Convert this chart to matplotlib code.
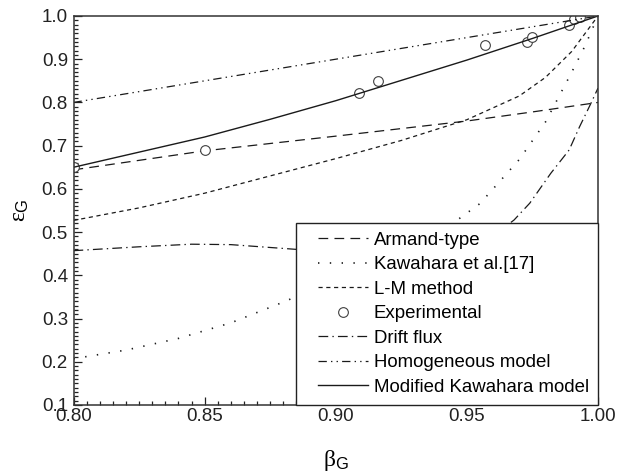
import matplotlib
matplotlib.use("Agg")
import matplotlib.pyplot as plt
from matplotlib.lines import Line2D
from matplotlib.legend_handler import HandlerLine2D
from matplotlib.ticker import MultipleLocator, FormatStrFormatter

plt.rcParams["font.family"] = ["Liberation Sans", "DejaVu Sans"]
plt.rcParams["mathtext.fontset"] = "custom"
plt.rcParams["mathtext.rm"] = "Liberation Serif"
plt.rcParams["mathtext.it"] = "Liberation Serif"
plt.rcParams["mathtext.sf"] = "Liberation Sans"
plt.rcParams["lines.scale_dashes"] = False

# Armand-type correlation
armand_beta = [0.80, 0.85, 0.90, 0.95, 0.975, 1.00]
armand_eps = [0.644, 0.688, 0.722, 0.757, 0.778, 0.800]

# Kawahara et al. [17]
kaw_beta = [0.80, 0.82, 0.84, 0.86, 0.88, 0.90, 0.92, 0.94, 0.955, 0.97, 0.98, 0.99, 0.995, 1.00]
kaw_eps = [0.207, 0.227, 0.254, 0.290, 0.338, 0.390, 0.443, 0.500, 0.566, 0.668, 0.755, 0.870, 0.930, 1.000]

# Lockhart-Martinelli method
lm_beta = [0.80, 0.825, 0.85, 0.875, 0.90, 0.925, 0.95, 0.97, 0.98, 0.99, 1.00]
lm_eps = [0.527, 0.556, 0.590, 0.630, 0.670, 0.712, 0.760, 0.815, 0.858, 0.918, 1.000]

# Experimental data
exp_beta = [0.800, 0.850, 0.909, 0.916, 0.957, 0.973, 0.975, 0.989, 0.991, 0.993]
exp_eps = [0.651, 0.691, 0.821, 0.850, 0.933, 0.939, 0.951, 0.979, 0.992, 0.998]

# Drift flux model
drift_beta = [0.80, 0.825, 0.845, 0.86, 0.885, 0.90, 0.92, 0.94, 0.955, 0.968, 0.974, 0.982, 0.989, 0.993, 0.997, 1.00]
drift_eps = [0.457, 0.466, 0.472, 0.471, 0.460, 0.452, 0.443, 0.445, 0.468, 0.528, 0.567, 0.636, 0.690, 0.744, 0.794, 0.833]

# Homogeneous model
homo_beta = [0.80, 1.00]
homo_eps = [0.80, 1.00]

# Modified Kawahara model
mod_beta = [0.80, 0.825, 0.85, 0.875, 0.90, 0.925, 0.95, 0.975, 1.00]
mod_eps = [0.650, 0.685, 0.720, 0.761, 0.804, 0.851, 0.898, 0.948, 1.000]


class InsetLineHandler(HandlerLine2D):
    """Legend line handler that leaves a gap before the sample line."""

    def __init__(self, inset=0.2, **kw):
        super().__init__(**kw)
        self.inset = inset

    def get_xdata(self, legend, xdescent, ydescent, width, height, fontsize):
        x0 = -xdescent + self.inset * width
        x1 = -xdescent + width
        return [x0, x1], [0.5 * (x0 + x1)]


fig = plt.figure(figsize=(6.24, 4.73), dpi=100)
ax = fig.add_axes([0.1178, 0.1438, 0.8405, 0.8224])

c = "#1a1a1a"
lw = 0.9
ax.plot(armand_beta, armand_eps, color=c, lw=lw, dashes=(7, 4.5), label="Armand-type")
ax.plot(kaw_beta, kaw_eps, color=c, lw=1.2, dashes=(1.0, 7.5), label="Kawahara et al.[17]")
ax.plot(lm_beta, lm_eps, color=c, lw=lw, dashes=(3, 2.6), label="L-M method")
ax.plot(exp_beta, exp_eps, ls="none", marker="o", ms=7, mfc="white",
        mec="#404040", mew=0.8, label="Experimental")
ax.plot(drift_beta, drift_eps, color=c, lw=lw, dashes=(7, 3, 1, 3), label="Drift flux")
ax.plot(homo_beta, homo_eps, color=c, lw=lw, dashes=(6, 3, 1, 3, 1, 3), label="Homogeneous model")
ax.plot(mod_beta, mod_eps, color=c, lw=1.0, label="Modified Kawahara model")

ax.set_xlim(0.80, 1.00)
ax.set_ylim(0.1, 1.0)
ax.xaxis.set_major_locator(MultipleLocator(0.05))
ax.xaxis.set_minor_locator(MultipleLocator(0.005))
ax.yaxis.set_major_locator(MultipleLocator(0.1))
ax.yaxis.set_minor_locator(MultipleLocator(0.01))
ax.xaxis.set_major_formatter(FormatStrFormatter("%.2f"))
ax.yaxis.set_major_formatter(FormatStrFormatter("%.1f"))
ax.tick_params(which="both", direction="in", top=False, right=False,
               labelsize=13.5, colors="#222222", width=0.9)
ax.tick_params(axis="x", which="major", length=6, pad=2)
ax.tick_params(axis="y", which="major", length=6, pad=4)
ax.tick_params(which="minor", length=3)
for s in ax.spines.values():
    s.set_linewidth(1.1)
    s.set_color("#333333")

ax.set_xlabel(r"$\beta_\mathsf{G}$", fontsize=17, labelpad=17)
ax.set_ylabel(r"$\varepsilon_\mathsf{G}$", fontsize=17, labelpad=8)

leg = ax.legend(loc="lower right", bbox_to_anchor=(1.0, 0.0), fontsize=13.4,
                frameon=True, fancybox=False, framealpha=1.0, edgecolor="#222222",
                handlelength=3.35, handletextpad=0.32, labelspacing=0.40,
                borderpad=0.5, borderaxespad=0.0,
                handler_map={Line2D: InsetLineHandler(inset=0.2)})
leg.get_frame().set_linewidth(1.0)

fig.savefig("out.png", dpi=100)
